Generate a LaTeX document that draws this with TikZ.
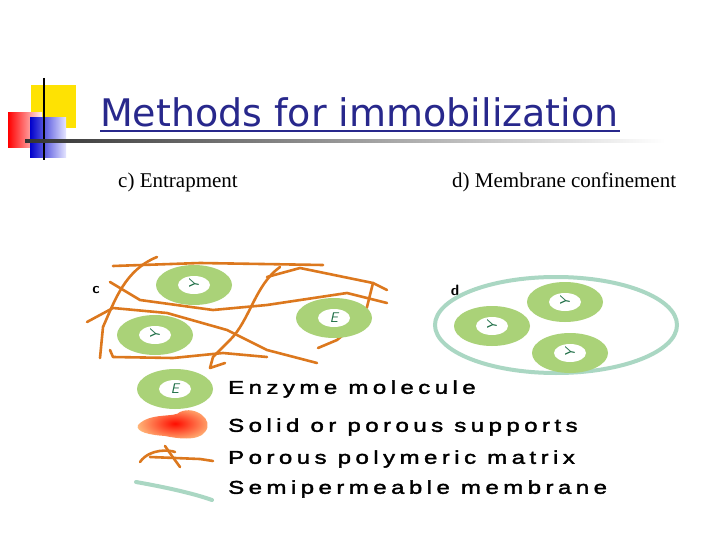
\documentclass[tikz,border=0pt]{standalone}
\usepackage{fontspec}
\setmainfont{Liberation Serif}
\newfontfamily\titlefont{DejaVu Sans}
\newfontfamily\legfont[LetterSpace=24,FakeStretch=1.3,FakeBold=2]{Liberation Sans}
\usetikzlibrary{shapes.geometric}
\definecolor{navy}{RGB}{40,40,140}
\definecolor{fib}{RGB}{220,120,30}
\definecolor{eg}{RGB}{170,210,120}
\definecolor{mint}{RGB}{170,215,195}
\definecolor{dg}{RGB}{30,110,70}
\tikzset{
 fiber/.style={draw=fib,line width=2.6pt,line cap=round,line join=round},
 enz/.style={ellipse,fill=eg,minimum width=76pt,minimum height=40pt,inner sep=0pt},
 core/.style={ellipse,fill=white,minimum width=32pt,minimum height=18pt,inner sep=0pt,text=dg,font=\sffamily\itshape\fontsize{14}{14}\selectfont},
 legtext/.style={anchor=west,font=\legfont\fontsize{18.5}{18.5}\selectfont,inner sep=0pt},
 sub/.style={anchor=west,font=\fontsize{21}{21}\selectfont,inner sep=0pt}
}
\newcommand{\enzyme}[3]{\node[enz] (#1) at (#2) {}; \node[core] at (#2) {#3};}
\begin{document}
\begin{tikzpicture}[x=1pt,y=-1pt]
\useasboundingbox[fill=white] (0,0) rectangle (720,540);
% decoration
\fill[yellow!85!orange] (31,85) rectangle (76,128);
\shade[left color=red, right color=red!5] (8,113) rectangle (42,148);
\shade[left color=blue!80!black, right color=blue!10] (30,118) rectangle (66,158);
\draw[line width=2pt] (44,78) -- (44,160);
\shade[left color=black!80, right color=white] (25,140) rectangle (665,143);
\node[anchor=base west,inner sep=0pt,text=navy,font=\titlefont\fontsize{38}{38}\selectfont] (title) at (100,127) {Methods for immobilization};
\draw[navy,line width=1.5pt] (100,131) -- (620,131);
\node[sub] (sc) at (118,182) {c) Entrapment};
\node[sub] (sd) at (452,182) {d) Membrane confinement};
% fibers
\draw[fiber] (113,266) -- (200,263) -- (323,265);
\draw[fiber] (110,282) -- (140,300) -- (213,310) -- (267,305) -- (347,293) -- (387,303);
\draw[fiber] (87,322) -- (113,308) -- (167,313) -- (227,330) -- (267,350) -- (317,363);
\draw[fiber] (110,350) -- (113,357) -- (173,358) -- (223,353) -- (267,357);
\draw[fiber] (157,257) .. controls (125,270) and (115,300) .. (103,327) -- (100,358);
\draw[fiber] (280,267) .. controls (255,285) and (250,320) .. (230,340) -- (213,357) -- (210,368) -- (225,363);
\draw[fiber] (267,277) -- (300,268) -- (373,283) -- (367,307) -- (353,327) -- (337,340) -- (318,348);
\draw[fiber] (373,283) -- (387,290);
\node[font=\sffamily\bfseries\fontsize{15}{15}\selectfont] (lc) at (96,290) {c};
\node[font=\sffamily\bfseries\fontsize{15}{15}\selectfont] (ld) at (455,290) {d};
\enzyme{e1}{194,285}{\rotatebox{90}{Y}}
\enzyme{e2}{155,335}{\rotatebox{90}{Y}}
\enzyme{e3}{334,318}{E}
% membrane
\draw[mint,line width=4pt] (556,325) ellipse (121 and 48);
\enzyme{e4}{565,302}{\rotatebox{90}{Y}}
\enzyme{e5}{492,326}{\rotatebox{90}{Y}}
\enzyme{e6}{570,353}{\rotatebox{90}{Y}}
% legend
\enzyme{le}{175,389}{E}
\node[legtext] (t1) at (228,389) {Enzyme molecule};
\shade[inner color=red!90!orange, outer color=orange!50] (138,425) .. controls (150,412) and (175,418) .. (180,412) .. controls (195,405) and (215,420) .. (205,432) .. controls (198,442) and (175,438) .. (165,436) .. controls (150,435) and (135,432) .. (138,425);
\node[legtext] (t2) at (228,427) {Solid or porous supports};
\draw[fiber] (140,462) .. controls (150,448) and (170,450) .. (175,452);
\draw[fiber] (165,446) -- (172,456) -- (180,467);
\draw[fiber] (150,457) -- (200,459) -- (213,461);
\node[legtext] (t3) at (228,459) {Porous polymeric matrix};
\draw[mint,line width=4pt,line cap=round] (136,482) .. controls (170,488) and (195,494) .. (212,500);
\node[legtext] (t4) at (228,489) {Semipermeable membrane};
\end{tikzpicture}
\end{document}
